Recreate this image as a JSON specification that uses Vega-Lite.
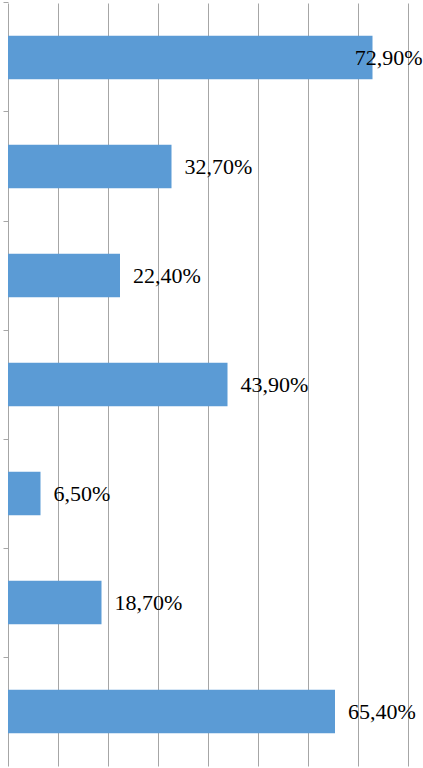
{
  "$schema": "https://vega.github.io/schema/vega-lite/v6.json",
  "autosize": {"type": "none"},
  "width": 400,
  "height": 763,
  "padding": {"left": 8, "top": 3, "right": 15, "bottom": 2},
  "background": "white",
  "config": {"view": {"stroke": null}},
  "data": {"values": [
    {"item": "1", "value": 72.9, "label": "72,90%"},
    {"item": "2", "value": 32.7, "label": "32,70%"},
    {"item": "3", "value": 22.4, "label": "22,40%"},
    {"item": "4", "value": 43.9, "label": "43,90%"},
    {"item": "5", "value": 6.5, "label": "6,50%"},
    {"item": "6", "value": 18.7, "label": "18,70%"},
    {"item": "7", "value": 65.4, "label": "65,40%"}
  ]},
  "encoding": {
    "y": {
      "field": "item", "type": "nominal", "sort": null,
      "scale": {"paddingInner": 0.6, "paddingOuter": 0.3},
      "axis": {
        "title": null, "labels": false, "bandPosition": -0.75,
        "domainColor": "#a6a6a6", "tickColor": "#a6a6a6", "tickSize": 5, "grid": false
      }
    },
    "x": {
      "field": "value", "type": "quantitative",
      "scale": {"domain": [0, 80], "nice": false},
      "axis": {
        "title": null, "labels": false, "ticks": false, "domain": false,
        "values": [10, 20, 30, 40, 50, 60, 70, 80],
        "grid": true, "gridColor": "#a6a6a6", "gridWidth": 1
      }
    }
  },
  "layer": [
    {"mark": {"type": "bar", "color": "#5b9bd5"}},
    {
      "transform": [{"filter": "datum.value < 70"}],
      "mark": {"type": "text", "align": "left", "baseline": "middle", "dx": 13, "font": "'Liberation Serif', 'DejaVu Serif', serif", "fontSize": 22, "color": "#000000"},
      "encoding": {"text": {"field": "label"}}
    },
    {
      "transform": [{"filter": "datum.value >= 70"}],
      "mark": {"type": "text", "align": "right", "baseline": "middle", "dx": 50, "font": "'Liberation Serif', 'DejaVu Serif', serif", "fontSize": 22, "color": "#000000"},
      "encoding": {"text": {"field": "label"}}
    }
  ]
}
